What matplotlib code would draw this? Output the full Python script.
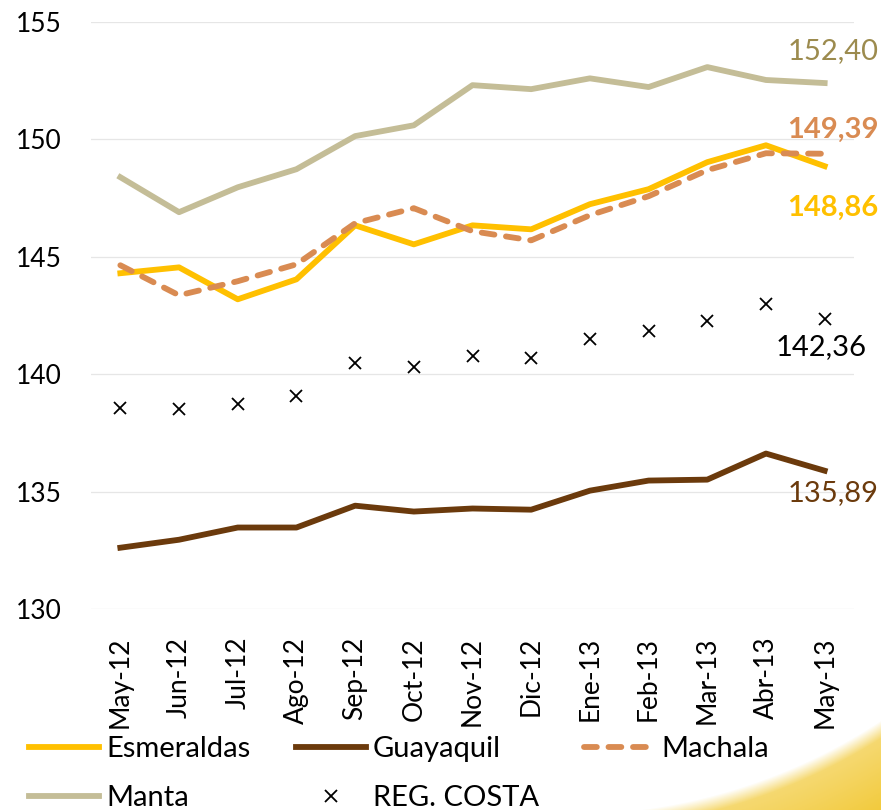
import matplotlib
matplotlib.use("Agg")
import matplotlib.pyplot as plt
import numpy as np

plt.rcParams["font.family"] = ["Lato", "DejaVu Sans"]

meses = ["May-12", "Jun-12", "Jul-12", "Ago-12", "Sep-12", "Oct-12", "Nov-12",
         "Dic-12", "Ene-13", "Feb-13", "Mar-13", "Abr-13", "May-13"]

esmeraldas = [144.30, 144.55, 143.19, 144.04, 146.34, 145.53, 146.34,
              146.17, 147.24, 147.88, 149.03, 149.75, 148.86]
guayaquil = [132.61, 132.95, 133.47, 133.47, 134.40, 134.15, 134.28,
             134.23, 135.04, 135.47, 135.51, 136.62, 135.89]
machala = [144.64, 143.36, 143.96, 144.68, 146.43, 147.07, 146.09,
           145.70, 146.77, 147.58, 148.69, 149.41, 149.39]
manta = [148.39, 146.90, 147.96, 148.73, 150.14, 150.60, 152.31,
         152.14, 152.60, 152.23, 153.08, 152.53, 152.40]
reg_costa = [138.58, 138.50, 138.75, 139.09, 140.46, 140.29, 140.76,
             140.67, 141.48, 141.82, 142.25, 142.97, 142.36]

c_esm = "#FFC000"
c_gua = "#6B3A0C"
c_mach = "#D98B52"
c_manta = "#C4BD97"

fig = plt.figure(figsize=(8.81, 8.10), dpi=100)

# fondo con la curva amarilla de la esquina inferior derecha
fondo = fig.add_axes([0, 0, 1, 1], zorder=0)
alto, ancho = 810, 881
xx, yy = np.meshgrid(np.arange(ancho), np.arange(alto))
dist = np.hypot(xx - 567, yy - 244) - 570
alfa = np.clip(dist / 15.0, 0, 1) * 0.62 + np.clip(dist / 90.0, 0, 1) * 0.36
alfa[(xx < 567) | (yy < 244)] = 0
img = np.zeros((alto, ancho, 4))
img[..., 0] = 0xF1 / 255
img[..., 1] = 0xC6 / 255
img[..., 2] = 0x2C / 255
img[..., 3] = alfa
fondo.imshow(img, extent=(0, ancho, alto, 0), aspect="auto")
fondo.axis("off")

ax = fig.add_axes([91 / 881, 1 - 609 / 810, 763 / 881, 587 / 810], zorder=1)
ax.set_facecolor("none")
x = np.arange(len(meses))

ax.plot(x, manta, color=c_manta, lw=4.2, label="Manta", zorder=3)
ax.plot(x, esmeraldas, color=c_esm, lw=4.2, label="Esmeraldas", zorder=4)
ax.plot(x, machala, color=c_mach, lw=4.2, dashes=(2.2, 2.0),
        dash_capstyle="round", label="Machala", zorder=5)
ax.plot(x, guayaquil, color=c_gua, lw=4.2, label="Guayaquil", zorder=3)
ax.plot(x, reg_costa, ls="none", marker="x", color="black", ms=9, mew=1.3,
        label="REG. COSTA", zorder=3)

ax.set_xlim(-0.5, 12.5)
ax.set_ylim(130, 155)
ax.set_yticks([130, 135, 140, 145, 150, 155])
ax.set_xticks(x)
ax.set_xticklabels(meses, rotation=90)
ax.tick_params(axis="y", length=0, pad=21, labelsize=19)
ax.tick_params(axis="x", length=0, pad=20, labelsize=19)
ax.grid(axis="y", color="#E6E6E6", lw=0.9)
ax.set_axisbelow(True)
for s in ax.spines.values():
    s.set_visible(False)

# etiquetas del ultimo mes
ult = len(meses) - 1
ax.annotate(f"{manta[-1]:.2f}".replace(".", ","), (ult, manta[-1]),
            xytext=(8, 32), textcoords="offset pixels", ha="center",
            va="center", fontsize=21, color="#9C8B4E")
ax.annotate(f"{machala[-1]:.2f}".replace(".", ","), (ult, machala[-1]),
            xytext=(8, 24), textcoords="offset pixels", ha="center",
            va="center", fontsize=21, color=c_mach, fontweight="bold")
ax.annotate(f"{esmeraldas[-1]:.2f}".replace(".", ","), (ult, esmeraldas[-1]),
            xytext=(8, -42), textcoords="offset pixels", ha="center",
            va="center", fontsize=21, color=c_esm, fontweight="bold")
ax.annotate(f"{reg_costa[-1]:.2f}".replace(".", ","), (ult, reg_costa[-1]),
            xytext=(-4, -28), textcoords="offset pixels", ha="center",
            va="center", fontsize=21, color="black")
ax.annotate(f"{guayaquil[-1]:.2f}".replace(".", ","), (ult, guayaquil[-1]),
            xytext=(8, -22), textcoords="offset pixels", ha="center",
            va="center", fontsize=21, color=c_gua)

h, l = ax.get_legend_handles_labels()
orden = ["Esmeraldas", "Manta", "Guayaquil", "REG. COSTA", "Machala"]
hs = [h[l.index(n)] for n in orden]
fig.legend(hs, orden, ncol=3, loc="upper left",
           bbox_to_anchor=(29 / 881, 1 - 736 / 810), frameon=False,
           fontsize=21, handlelength=2.4, handletextpad=0.25,
           columnspacing=1.55, labelspacing=0.8, borderpad=0,
           borderaxespad=0)

fig.savefig("out.png", dpi=100, facecolor="white")
